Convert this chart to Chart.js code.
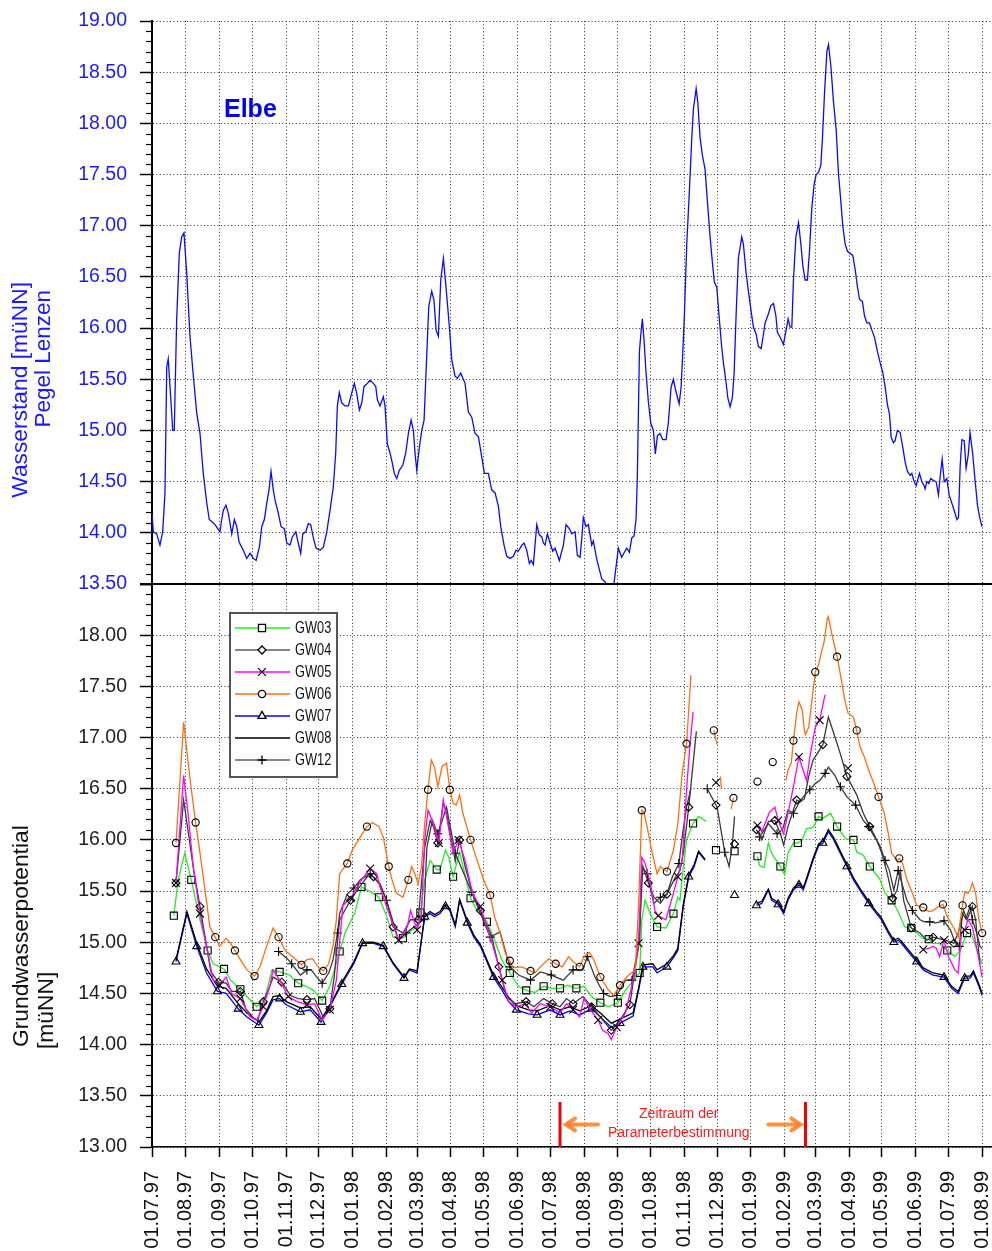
<!DOCTYPE html>
<html lang="de">
<head>
<meta charset="utf-8">
<title>Elbe / Grundwasserpotential</title>
<script src="https://cdn.jsdelivr.net/npm/chart.js@4.4.1/dist/chart.umd.min.js"></script>
<style>
html,body{margin:0;padding:0;background:#fff;}
#box{position:relative;width:992px;height:1251px;}
canvas{display:block;}
</style>
</head>
<body>
<div id="box"><canvas id="chart" width="992" height="1251"></canvas></div>
<script>
// ---------- DATA ----------
const X_TICK_LABELS = ['01.07.97','01.08.97','01.09.97','01.10.97','01.11.97','01.12.97','01.01.98','01.02.98','01.03.98','01.04.98','01.05.98','01.06.98','01.07.98','01.08.98','01.09.98','01.10.98','01.11.98','01.12.98','01.01.99','01.02.99','01.03.99','01.04.99','01.05.99','01.06.99','01.07.99','01.08.99'];
const Y_TOP_RANGE = [13.5, 19.0];
const Y_BOT_RANGE = [13.0, 18.5];
const PERIOD = ['10.07.98', '20.02.99'];

// Elbe water level [days since 01.07.97, m uNN]
const ELBE_POINTS = [[0,14.19],[1.2,14.01],[4.3,13.99],[7.3,13.88],[9.8,14.01],[11.9,14.39],[13.5,15.62],[14.9,15.70],[17.1,15.33],[19.0,15.00],[20.4,15.00],[22.6,16.08],[25.0,16.73],[27.2,16.89],[29.3,16.93],[31.8,16.54],[34.8,15.92],[37.9,15.53],[41.0,15.17],[44.0,14.97],[47.0,14.58],[50.2,14.29],[52.5,14.13],[54.7,14.11],[57.8,14.08],[60.2,14.04],[62.3,14.01],[63.9,14.13],[65.4,14.22],[67.8,14.27],[70.0,14.19],[73.1,13.99],[75.5,14.13],[77.7,14.06],[79.8,13.91],[83.7,13.83],[86.8,13.75],[89.9,13.80],[92.9,13.75],[95.4,13.73],[98.4,13.86],[100.6,14.06],[103.0,14.13],[105.2,14.29],[107.3,14.42],[109.1,14.60],[111.2,14.42],[112.8,14.32],[115.8,14.19],[118.3,14.06],[121.3,14.04],[123.5,13.90],[126.5,13.88],[128.6,13.96],[131.8,14.01],[134.1,13.90],[136.3,13.80],[138.2,13.99],[140.9,14.01],[143.3,14.09],[145.5,14.08],[147.9,13.95],[150.4,13.85],[154.0,13.83],[157.1,13.86],[160.2,14.01],[163.2,14.22],[166.2,14.45],[168.4,14.78],[169.9,15.24],[171.7,15.37],[173.9,15.27],[176.9,15.24],[180.0,15.24],[182.2,15.33],[185.5,15.46],[187.7,15.36],[190.1,15.20],[192.3,15.27],[194.4,15.43],[197.4,15.46],[199.9,15.49],[202.9,15.46],[205.1,15.43],[206.6,15.30],[209.0,15.24],[212.1,15.33],[213.6,15.24],[215.7,14.87],[218.2,14.78],[220.3,14.68],[222.1,14.58],[224.4,14.53],[226.7,14.61],[229.9,14.66],[232.6,14.78],[235.0,14.97],[237.5,15.10],[239.6,15.00],[241.1,14.78],[242.7,14.61],[245.1,14.84],[247.3,15.00],[249.4,15.10],[251.9,15.75],[253.7,16.21],[256.4,16.36],[258.5,16.27],[260.4,15.98],[262.5,15.92],[264.7,16.47],[267.1,16.68],[269.5,16.40],[272.6,16.01],[274.8,15.69],[277.8,15.53],[279.9,15.51],[283.0,15.56],[287.0,15.46],[290.0,15.18],[293.1,15.13],[296.1,14.97],[299.2,14.94],[302.3,14.74],[304.7,14.58],[308.3,14.58],[311.4,14.42],[314.5,14.39],[317.5,14.26],[319.7,14.06],[322.7,13.88],[325.2,13.77],[328.2,13.75],[331.3,13.77],[333.7,13.83],[335.8,13.82],[339.0,13.88],[341.1,13.90],[343.5,13.83],[345.9,13.70],[347.5,13.73],[349.6,13.69],[352.7,14.08],[355.1,13.98],[357.3,13.96],[358.8,13.90],[360.3,13.88],[362.4,13.99],[364.9,13.90],[367.4,13.82],[369.5,13.85],[373.4,13.73],[377.1,13.88],[379.6,14.08],[382.6,14.04],[384.8,13.99],[387.8,14.01],[389.9,13.78],[392.4,13.76],[394.0,13.95],[395.4,14.15],[397.9,14.06],[400.0,14.08],[403.1,13.88],[404.6,13.92],[407.7,13.74],[410.1,13.64],[412.3,13.55],[415.3,13.52],[418.4,13.48],[420.5,13.45],[422.9,13.46],[425.4,13.67],[427.5,13.85],[430.6,13.76],[433.0,13.81],[435.2,13.85],[437.6,13.81],[439.8,13.95],[441.9,13.97],[443.7,14.13],[444.9,14.55],[446.8,15.77],[448.1,15.94],[449.5,16.09],[451.1,15.87],[452.9,15.56],[455.0,15.28],[457.2,15.07],[459.6,15.00],[461.4,14.77],[463.3,14.95],[465.7,14.97],[468.2,14.91],[471.2,14.91],[473.3,15.07],[475.8,15.42],[477.9,15.50],[480.1,15.39],[483.2,15.26],[485.0,15.42],[486.6,15.77],[488.0,16.12],[490.2,16.82],[492.6,17.34],[494.8,17.86],[496.3,18.14],[498.8,18.34],[500.3,18.21],[502.4,17.86],[504.5,17.69],[507.0,17.55],[509.1,17.24],[511.6,16.89],[513.7,16.64],[515.5,16.45],[517.7,16.40],[519.8,16.12],[522.0,15.84],[523.8,15.66],[526.0,15.49],[527.8,15.32],[529.9,15.23],[532.0,15.32],[533.6,15.56],[535.4,16.12],[537.5,16.68],[540.6,16.89],[542.1,16.82],[544.6,16.54],[547.1,16.33],[549.8,16.12],[551.3,16.01],[553.8,15.94],[555.9,15.82],[558.4,15.80],[560.5,15.94],[562.0,16.05],[565.1,16.14],[567.3,16.22],[569.7,16.24],[571.9,16.12],[573.3,15.96],[575.8,15.91],[578.8,15.84],[581.3,15.98],[583.1,16.09],[584.9,16.01],[586.5,16.01],[588.0,16.47],[590.2,16.89],[592.6,17.03],[594.8,16.82],[596.6,16.61],[598.7,16.47],[600.8,16.47],[602.7,16.75],[604.8,17.17],[607.0,17.41],[608.8,17.50],[610.9,17.52],[613.1,17.59],[614.6,17.86],[616.4,18.28],[618.6,18.70],[620.1,18.77],[622.3,18.56],[624.7,18.21],[627.2,17.93],[629.2,17.52],[631.4,17.24],[633.3,16.99],[635.4,16.82],[637.5,16.75],[640.0,16.73],[642.4,16.71],[644.6,16.57],[646.7,16.40],[648.6,16.28],[651.2,16.26],[653.1,16.12],[655.3,16.05],[657.7,16.05],[659.9,15.98],[662.3,15.91],[665.0,15.77],[667.5,15.66],[670.0,15.56],[672.1,15.42],[674.2,15.25],[676.0,15.16],[677.6,14.93],[679.7,14.88],[681.2,14.90],[683.3,15.00],[685.8,14.98],[688.3,14.83],[690.4,14.69],[692.5,14.60],[695.0,14.56],[696.5,14.58],[698.6,14.50],[700.5,14.46],[701.7,14.51],[703.5,14.58],[705.7,14.50],[707.8,14.46],[708.7,14.43],[710.3,14.50],[712.1,14.48],[713.9,14.53],[716.3,14.51],[718.8,14.50],[720.9,14.37],[722.5,14.55],[724.3,14.72],[726.2,14.50],[728.6,14.53],[730.7,14.37],[733.2,14.29],[735.3,14.22],[737.8,14.13],[739.3,14.15],[740.8,14.65],[742.4,14.91],[744.5,14.90],[746.3,14.63],[748.2,14.76],[749.9,14.98],[752.4,14.76],[754.5,14.51],[756.7,14.27],[758.5,14.16],[760.7,14.06]];

// Groundwater wells [days since 01.07.97, m uNN]; null = no measurement
const GW03_POINTS = [[20,15.26],[24,15.61],[30,15.87],[36,15.61],[44,15.22],[51,14.92],[56,14.79],[62,14.76],[66,14.74],[72,14.63],[81,14.54],[87,14.47],[96,14.37],[104,14.47],[110,14.73],[117,14.71],[126,14.68],[134,14.60],[141,14.57],[148,14.53],[156,14.43],[163,14.57],[172,14.91],[177,15.09],[186,15.29],[192,15.54],[201,15.49],[208,15.44],[215,15.26],[221,15.05],[230,15.04],[238,15.12],[244,15.15],[246,15.29],[250,15.61],[255,15.80],[261,15.71],[264,15.71],[269,15.90],[272,15.83],[276,15.64],[282,15.88],[292,15.43],[298,15.31],[307,15.20],[314,15.02],[321,14.82],[328,14.70],[336,14.57],[343,14.53],[351,14.51],[359,14.57],[366,14.55],[374,14.55],[381,14.58],[389,14.55],[396,14.57],[403,14.47],[411,14.41],[418,14.37],[427,14.41],[434,14.53],[441,14.62],[447,14.70],[449,15.22],[452,15.41],[457,15.27],[463,15.15],[471,15.14],[478,15.28],[482,15.44],[484,15.41],[487,15.73],[490,16.00],[496,16.16],[501,16.23],[508,16.18],[512,null],[517,15.90],[525,null],[534,15.89],[545,null],[555,15.84],[557,15.75],[561,15.73],[565,15.97],[568,15.87],[576,15.74],[580,15.66],[583,15.87],[588,15.97],[592,15.97],[596,16.00],[600,16.11],[606,16.12],[611,16.23],[615,16.21],[622,16.26],[628,16.13],[636,16.01],[643,16.00],[646,15.88],[652,15.85],[658,15.74],[667,15.62],[672,15.48],[678,15.41],[682,15.34],[686,15.25],[690,15.15],[696,15.14],[701,15.09],[706,15.04],[712,15.03],[716,14.99],[722,14.99],[729,14.92],[736,14.86],[741,14.92],[747,15.09],[751,15.09],[757,14.90],[761,14.79]];
const GW04_POINTS = [[22,15.58],[29,16.39],[38,15.72],[44,15.35],[54,14.71],[61,14.61],[68,14.60],[73,14.52],[81,14.52],[86,14.35],[93,14.26],[97,14.24],[102,14.42],[108,14.57],[111,14.66],[119,14.61],[127,14.48],[134,14.45],[142,14.44],[149,14.45],[157,14.27],[163,14.35],[167,14.66],[172,15.22],[182,15.41],[188,15.51],[198,15.65],[203,15.64],[209,15.56],[215,15.41],[221,15.15],[230,15.09],[237,15.22],[244,15.22],[250,15.93],[255,16.19],[258,16.13],[262,15.97],[267,16.36],[270,16.26],[278,15.79],[282,16.00],[287,15.74],[294,15.47],[301,15.31],[311,15.07],[318,14.76],[325,14.47],[333,14.40],[343,14.42],[350,14.37],[359,14.45],[367,14.40],[374,14.37],[380,14.45],[386,14.40],[395,14.47],[403,14.37],[411,14.27],[421,14.14],[429,14.24],[438,14.39],[446,14.96],[450,15.74],[455,15.58],[460,15.44],[466,15.38],[472,15.47],[480,15.64],[484,15.70],[487,15.87],[492,16.32],[499,17.06],[508,null],[517,16.34],[525,null],[534,15.96],[545,null],[554,16.10],[559,16.00],[565,16.18],[571,16.19],[576,16.06],[579,15.95],[583,16.13],[587,16.26],[591,16.39],[594,16.37],[598,16.40],[602,16.62],[606,16.78],[615,16.93],[620,17.20],[625,17.04],[631,16.84],[637,16.62],[646,16.44],[652,16.26],[658,16.13],[663,16.03],[669,15.87],[674,15.67],[679,15.43],[683,15.51],[686,15.70],[689,15.41],[696,15.14],[704,15.09],[710,15.02],[716,15.05],[727,15.02],[735,14.99],[739,15.09],[744,15.31],[747,15.22],[752,15.35],[755,15.22],[759,14.78]];
const GW05_POINTS = [[22,15.58],[29,16.63],[33,16.26],[38,15.72],[44,15.28],[50,14.96],[56,14.63],[62,14.58],[68,14.66],[73,14.50],[81,14.45],[90,14.27],[96,14.24],[102,14.37],[108,14.57],[111,14.73],[117,14.63],[125,14.47],[133,14.42],[142,14.39],[149,14.40],[156,14.24],[163,14.34],[169,14.63],[175,15.36],[182,15.43],[192,15.61],[200,15.72],[206,15.67],[209,15.54],[215,15.35],[226,15.02],[234,15.15],[237,15.31],[243,15.12],[247,15.28],[250,16.00],[253,16.29],[258,16.16],[263,15.97],[267,16.39],[270,16.23],[276,15.87],[281,16.00],[287,15.80],[294,15.47],[301,15.35],[305,15.22],[311,15.02],[316,14.83],[321,14.63],[327,14.42],[334,14.37],[342,14.40],[348,14.31],[356,14.40],[365,14.37],[374,14.31],[380,14.40],[386,14.34],[392,14.27],[396,14.45],[402,14.34],[409,14.24],[413,14.14],[418,14.11],[421,14.05],[426,14.17],[434,14.31],[441,14.63],[446,14.99],[449,15.83],[452,15.77],[457,15.57],[461,15.31],[464,15.26],[471,15.22],[478,15.48],[482,15.64],[486,15.80],[490,16.49],[493,16.91],[496,17.25],[505,null],[517,16.56],[530,null],[555,16.14],[557,16.13],[559,16.08],[566,16.27],[571,16.32],[574,16.19],[579,16.06],[583,16.26],[588,16.52],[593,16.81],[596,16.71],[600,16.58],[603,16.81],[608,17.10],[612,17.17],[617,17.42],[628,null],[638,16.70],[660,null],[707,14.93],[712,14.94],[716,14.96],[719,14.94],[722,14.86],[726,15.02],[730,14.86],[736,14.73],[739,14.70],[742,15.09],[745,15.12],[748,15.22],[752,15.15],[754,15.05],[758,14.83],[761,14.66]];
const GW06_POINTS = [[22,15.97],[29,17.15],[35,16.58],[40,16.17],[44,15.87],[49,15.48],[53,15.15],[58,15.05],[62,14.96],[68,15.04],[72,14.99],[76,14.92],[81,14.83],[87,14.73],[94,14.67],[99,14.76],[105,14.96],[111,15.14],[116,15.05],[122,14.92],[130,14.85],[137,14.78],[142,14.83],[147,14.84],[153,14.75],[157,14.72],[162,14.79],[166,14.97],[169,15.22],[172,15.67],[179,15.77],[184,15.91],[191,16.03],[197,16.13],[202,16.17],[208,16.13],[212,16.03],[217,15.74],[220,15.61],[224,15.48],[230,15.44],[235,15.61],[238,15.74],[241,15.67],[244,15.57],[247,15.74],[250,16.16],[253,16.49],[256,16.78],[259,16.71],[262,16.52],[266,16.72],[270,16.75],[273,16.49],[276,16.36],[279,16.34],[282,16.44],[285,16.26],[292,16.00],[298,15.80],[304,15.61],[310,15.46],[314,15.25],[319,15.09],[324,14.89],[328,14.82],[331,14.75],[339,14.76],[347,14.72],[351,14.70],[356,14.76],[364,14.84],[370,14.79],[376,14.76],[382,14.86],[386,14.81],[392,14.76],[396,14.86],[401,14.90],[405,14.83],[411,14.66],[418,14.54],[423,14.48],[429,14.58],[436,14.67],[443,14.73],[446,15.35],[449,16.29],[451,16.27],[454,16.12],[458,15.90],[463,15.67],[466,15.74],[472,15.69],[478,15.90],[482,16.16],[486,16.65],[490,16.94],[493,17.43],[494,17.61],[505,null],[515,17.07],[518,16.93],[519,null],[521,16.62],[522,16.50],[527,null],[531,16.30],[533,16.41],[544,null],[555,16.57],[562,null],[569,16.76],[575,null],[581,16.58],[583,16.68],[586,16.75],[588,16.97],[591,17.24],[593,17.35],[596,17.27],[598,17.07],[599,17.03],[602,17.10],[605,17.37],[608,17.64],[611,17.71],[614,17.85],[616,17.93],[619,18.16],[620,18.18],[623,18.02],[628,17.79],[632,17.56],[635,17.37],[638,17.24],[643,17.20],[646,17.07],[649,16.91],[653,16.81],[657,16.68],[661,16.57],[666,16.42],[671,16.27],[675,16.06],[678,15.87],[683,15.80],[685,15.82],[688,15.77],[692,15.61],[697,15.48],[701,15.36],[707,15.34],[712,15.30],[716,15.31],[721,15.35],[725,15.37],[729,15.25],[735,15.14],[739,15.05],[741,15.22],[743,15.36],[745,15.49],[748,15.48],[750,15.51],[752,15.58],[755,15.48],[758,15.22],[761,15.09]];
const GW07_POINTS = [[22,14.81],[32,15.28],[41,14.96],[50,14.70],[60,14.52],[68,14.50],[79,14.35],[87,14.27],[98,14.19],[105,14.31],[111,14.44],[117,14.45],[123,14.39],[136,14.32],[145,14.34],[155,14.22],[163,14.37],[174,14.59],[185,14.79],[193,14.99],[203,14.99],[212,14.96],[221,14.79],[231,14.65],[236,14.73],[243,14.70],[247,15.02],[250,15.25],[255,15.28],[259,15.25],[264,15.28],[269,15.35],[273,15.31],[278,15.15],[282,15.41],[289,15.19],[295,15.05],[301,14.96],[307,14.81],[313,14.66],[321,14.53],[327,14.42],[334,14.34],[345,14.30],[353,14.29],[365,14.34],[374,14.29],[383,14.33],[392,14.29],[403,14.35],[411,14.27],[421,14.17],[429,14.21],[441,14.28],[446,14.53],[450,14.76],[459,14.76],[463,14.70],[472,14.76],[478,14.85],[482,14.92],[487,15.35],[492,15.64],[497,15.74],[501,15.88],[507,15.80],[520,null],[534,15.46],[545,null],[554,15.36],[559,15.38],[565,15.51],[568,15.41],[574,15.37],[579,15.28],[583,15.41],[588,15.51],[593,15.56],[597,15.51],[602,15.67],[606,15.80],[611,15.94],[615,15.97],[620,16.08],[625,16.00],[630,15.89],[637,15.74],[643,15.61],[650,15.49],[657,15.38],[664,15.28],[668,15.23],[675,15.09],[680,15.00],[684,15.02],[687,14.99],[693,14.91],[701,14.81],[707,14.73],[716,14.68],[726,14.66],[733,14.55],[739,14.50],[745,14.65],[750,14.65],[753,14.70],[758,14.57],[761,14.48]];
const GW08_POINTS = [[22,14.83],[32,15.30],[41,14.99],[50,14.74],[60,14.57],[68,14.55],[79,14.40],[87,14.31],[98,14.22],[105,14.33],[111,14.47],[117,14.48],[123,14.42],[136,14.36],[145,14.37],[155,14.25],[163,14.38],[174,14.61],[185,14.81],[193,15.00],[203,15.00],[212,14.97],[221,14.80],[231,14.66],[236,14.74],[243,14.72],[247,15.03],[250,15.26],[255,15.30],[259,15.27],[264,15.30],[269,15.37],[273,15.33],[278,15.17],[282,15.42],[289,15.21],[295,15.07],[301,14.98],[307,14.83],[313,14.68],[321,14.56],[327,14.46],[334,14.38],[345,14.34],[353,14.33],[365,14.38],[374,14.34],[383,14.37],[392,14.33],[403,14.38],[411,14.31],[421,14.21],[429,14.25],[441,14.31],[446,14.55],[450,14.78],[459,14.79],[463,14.73],[472,14.79],[478,14.87],[482,14.94],[487,15.37],[492,15.66],[497,15.76],[501,15.89],[507,15.81],[530,null],[554,15.38],[559,15.40],[565,15.52],[568,15.43],[574,15.39],[579,15.30],[583,15.43],[588,15.53],[593,15.58],[597,15.53],[602,15.69],[606,15.82],[611,15.96],[615,15.99],[620,16.10],[625,16.02],[630,15.91],[637,15.76],[643,15.63],[650,15.51],[657,15.40],[664,15.30],[668,15.25],[675,15.11],[680,15.02],[684,15.04],[687,15.01],[693,14.93],[701,14.83],[707,14.75],[716,14.70],[726,14.68],[733,14.57],[739,14.52],[745,14.67],[750,14.67],[753,14.72],[758,14.59],[761,14.50]];
const GW12_POINTS = [[116,14.91],[124,14.84],[128,14.79],[136,14.68],[142,14.73],[146,14.73],[151,14.66],[156,14.60],[162,14.70],[166,14.83],[170,15.09],[172,15.28],[179,15.47],[185,15.53],[191,15.61],[200,15.67],[209,15.57],[215,15.41],[226,15.02],[233,15.09],[240,15.15],[249,15.22],[252,15.93],[257,16.19],[262,16.06],[270,16.32],[278,15.87],[293,15.49],[310,15.05],[319,15.10],[328,14.76],[336,14.68],[347,14.63],[356,14.71],[366,14.68],[377,14.63],[386,14.73],[395,14.73],[399,14.86],[406,14.66],[414,14.50],[420,14.47],[426,14.48],[434,14.63],[440,14.63],[447,15.02],[449,15.74],[454,15.67],[460,15.38],[466,15.44],[472,15.47],[477,15.64],[483,15.77],[486,16.03],[490,16.32],[494,16.50],[500,null],[509,16.50],[518,16.32],[525,15.88],[529,15.74],[532,15.96],[534,16.23],[545,null],[557,16.03],[565,16.16],[573,16.06],[578,16.10],[583,16.29],[588,16.26],[593,16.36],[597,16.42],[603,16.49],[608,16.55],[612,16.58],[617,16.65],[620,16.71],[626,16.63],[631,16.52],[637,16.42],[645,16.34],[652,16.19],[657,16.13],[661,16.05],[667,15.95],[672,15.80],[676,15.70],[680,15.51],[684,15.70],[687,15.59],[692,15.41],[697,15.31],[704,15.22],[708,15.20],[713,15.20],[718,15.19],[723,15.20],[726,15.21],[732,15.12],[736,15.00],[740,14.96],[743,15.28],[746,15.23],[750,15.35],[752,15.22],[756,15.09],[759,14.96],[761,14.94]];

// ---------- HELPERS / STYLE ----------
const FONT = '"Liberation Sans", Arial, Helvetica, sans-serif';
const DAY0 = Date.UTC(1997, 6, 1);
function dayOf(s) {
  const p = s.split('.').map(Number);
  const y = p[2] < 50 ? 2000 + p[2] : 1900 + p[2];
  return Math.round((Date.UTC(y, p[1] - 1, p[0]) - DAY0) / 86400000);
}
const MONTH_DAYS = X_TICK_LABELS.map(dayOf);

const SERIES = [
  {label:'GW03', pts:GW03_POINTS, color:'#22ee22', style:'rect', r:5, every:15, order:6},
  {label:'GW04', pts:GW04_POINTS, color:'#3a3a3a', legendColor:'#5c5c5c', style:'rectRot', r:4, every:17, order:3},
  {label:'GW05', pts:GW05_POINTS, color:'#ff00ff', style:'crossRot', r:5.5, every:17, order:2},
  {label:'GW06', pts:GW06_POINTS, color:'#ff6d10', style:'circle', r:3.6, every:18, order:1},
  {label:'GW07', pts:GW07_POINTS, color:'#0000ff', style:'triangle', r:4.6, every:19, order:7},
  {label:'GW08', pts:GW08_POINTS, color:'#000000', style:false, r:0, every:0, order:5},
  {label:'GW12', pts:GW12_POINTS, color:'#3a3a3a', legendColor:'#5c5c5c', style:'cross', r:4.5, every:12, order:4}
];

function markerRadii(pts, every, r) {
  const out = [];
  let next = -Infinity;
  for (let i = 0; i < pts.length; i++) {
    const v = pts[i][1];
    if (v === null || !r) { out.push(0); continue; }
    const prevNull = i === 0 || pts[i - 1][1] === null;
    const nextNull = i === pts.length - 1 || pts[i + 1][1] === null;
    if ((prevNull && nextNull) || pts[i][0] >= next) { out.push(r); next = pts[i][0] + every; }
    else out.push(0);
  }
  return out;
}

const datasets = [{
  label: 'Elbe', yAxisID: 'yTop', xAxisID: 'x',
  data: ELBE_POINTS.map(p => ({x: p[0], y: p[1]})),
  borderColor: '#0a0aff', borderWidth: 1.3, pointRadius: 0, tension: 0, spanGaps: false, order: 0
}];
SERIES.forEach(s => {
  datasets.push({
    label: s.label, yAxisID: 'yBot', xAxisID: 'x',
    data: s.pts.map(p => ({x: p[0], y: p[1]})),
    borderColor: s.color, borderWidth: 1.3, tension: 0, spanGaps: false, order: s.order,
    pointRadius: markerRadii(s.pts, s.every, s.r), pointHoverRadius: 0,
    pointStyle: s.style || 'circle', pointBorderColor: '#000', pointBackgroundColor: 'rgba(0,0,0,0)',
    pointBorderWidth: 1.1
  });
});

function vtext(ctx, text, x, y, align, font, color) {
  ctx.save();
  ctx.translate(x, y);
  ctx.rotate(-Math.PI / 2);
  ctx.font = font; ctx.fillStyle = color; ctx.textAlign = align; ctx.textBaseline = 'middle';
  ctx.fillText(text, 0, 0);
  ctx.restore();
}

const deco = {
  id: 'deco',
  afterDraw(chart) {
    const ctx = chart.ctx, ca = chart.chartArea;
    const {x, yTop, yBot} = chart.scales;
    ctx.save();
    // minor ticks
    ctx.strokeStyle = '#000'; ctx.lineWidth = 1.2;
    [yTop, yBot].forEach(s => {
      for (let k = Math.round(s.min * 10); k <= Math.round(s.max * 10); k++) {
        if (k % 5 === 0) continue;
        const py = Math.round(s.getPixelForValue(k / 10)) + 0.5;
        ctx.beginPath(); ctx.moveTo(ca.left - 6, py); ctx.lineTo(ca.left, py); ctx.stroke();
      }
    });
    // separator between the two panels
    const ys = yTop.getPixelForValue(Y_TOP_RANGE[0]);
    ctx.lineWidth = 2.2; ctx.strokeStyle = '#000';
    ctx.beginPath(); ctx.moveTo(ca.left - 12, ys); ctx.lineTo(ca.right, ys); ctx.stroke();

    // Elbe label
    ctx.font = 'bold 25px ' + FONT; ctx.fillStyle = '#0000ee';
    ctx.textAlign = 'left'; ctx.textBaseline = 'middle';
    ctx.fillText('Elbe', x.getPixelForValue(66), yTop.getPixelForValue(18.13));

    // axis titles
    vtext(ctx, 'Wasserstand [müNN]', 21, 282, 'right', '22.8px ' + FONT, '#1a1aff');
    vtext(ctx, 'Pegel Lenzen', 44, 290, 'right', '22.5px ' + FONT, '#1a1aff');
    vtext(ctx, 'Grundwasserpotential', 22, 1047, 'left', '22.8px ' + FONT, '#111');
    vtext(ctx, '[müNN]', 47, 1049, 'left', '22.8px ' + FONT, '#111');

    // period annotation
    const xa = x.getPixelForValue(dayOf(PERIOD[0]));
    const xb = x.getPixelForValue(dayOf(PERIOD[1]));
    const yb0 = yBot.getPixelForValue(Y_BOT_RANGE[0]);
    const yb1 = yBot.getPixelForValue(13.44);
    ctx.strokeStyle = '#ee0000'; ctx.lineWidth = 3;
    [xa, xb].forEach(px => { ctx.beginPath(); ctx.moveTo(px, yb0); ctx.lineTo(px, yb1); ctx.stroke(); });
    const ya = yBot.getPixelForValue(13.22);
    ctx.strokeStyle = 'rgba(255,125,30,0.85)'; ctx.lineWidth = 4; ctx.lineCap = 'round';
    ctx.beginPath(); ctx.moveTo(xa + 38, ya); ctx.lineTo(xa + 8, ya); ctx.stroke();
    ctx.beginPath(); ctx.moveTo(xa + 15, ya - 6); ctx.lineTo(xa + 6, ya); ctx.lineTo(xa + 15, ya + 6); ctx.stroke();
    ctx.beginPath(); ctx.moveTo(xb - 37, ya); ctx.lineTo(xb - 7, ya); ctx.stroke();
    ctx.beginPath(); ctx.moveTo(xb - 14, ya - 6); ctx.lineTo(xb - 5, ya); ctx.lineTo(xb - 14, ya + 6); ctx.stroke();
    ctx.fillStyle = '#ff1a1a'; ctx.font = '14px ' + FONT; ctx.textAlign = 'center'; ctx.textBaseline = 'middle';
    const xm = (xa + xb) / 2 - 4;
    ctx.fillText('Zeitraum der', xm, yb0 - 33);
    ctx.fillText('Parameterbestimmung', xm, yb0 - 14);

    // legend
    const lx = ca.left + 78, ly = yBot.top + 29, lw = 107, lh = 164;
    ctx.fillStyle = '#fff'; ctx.fillRect(lx, ly, lw, lh);
    ctx.lineWidth = 2; ctx.strokeStyle = '#555'; ctx.lineCap = 'butt';
    ctx.strokeRect(lx, ly, lw, lh);
    SERIES.forEach((s, i) => {
      const cy = ly + 15 + 22 * i;
      ctx.strokeStyle = s.legendColor || s.color; ctx.lineWidth = 1.6;
      ctx.beginPath(); ctx.moveTo(lx + 5, cy); ctx.lineTo(lx + 60, cy); ctx.stroke();
      if (s.style) {
        ctx.strokeStyle = '#000'; ctx.fillStyle = '#fff'; ctx.lineWidth = 1.3;
        Chart.helpers.drawPoint(ctx, {pointStyle: s.style, radius: s.r, borderWidth: 1.3, rotation: 0}, lx + 32, cy);
      }
      ctx.save();
      ctx.translate(lx + 65, cy + 1);
      ctx.scale(0.8, 1);
      ctx.fillStyle = '#111'; ctx.font = '16px ' + FONT; ctx.textAlign = 'left'; ctx.textBaseline = 'middle';
      ctx.fillText(s.label, 0, 0);
      ctx.restore();
    });
    ctx.restore();
  }
};

const gridCommon = {color: '#333', lineWidth: 1, tickColor: '#000', tickWidth: 1.5};
function noPad(s) { s.paddingLeft = 0; s.paddingRight = 0; s.paddingTop = 0; s.paddingBottom = 0; }

new Chart(document.getElementById('chart'), {
  type: 'line',
  data: {datasets},
  options: {
    responsive: false, animation: false, devicePixelRatio: 1, events: [],
    layout: {autoPadding: false, padding: {top: 21, right: 0, bottom: 0, left: 0}},
    plugins: {legend: {display: false}, tooltip: {enabled: false}},
    scales: {
      x: {
        type: 'linear', position: 'bottom', min: 0, max: 770,
        afterBuildTicks: s => { s.ticks = MONTH_DAYS.map(v => ({value: v})); },
        afterFit: s => { s.height = 104; noPad(s); },
        ticks: {autoSkip: false, maxRotation: 90, minRotation: 90, padding: 14, color: '#111',
                font: {family: FONT, size: 20}, callback: (v, i) => X_TICK_LABELS[i]},
        grid: Object.assign({}, gridCommon, {tickLength: 10}),
        border: {display: true, color: '#000', width: 1.5, dash: [1, 2.4]}
      },
      yTop: {
        type: 'linear', position: 'left', stack: 'panels', stackWeight: 1, weight: 1,
        min: Y_TOP_RANGE[0], max: Y_TOP_RANGE[1],
        afterFit: s => { s.width = 152; noPad(s); },
        ticks: {stepSize: 0.5, color: '#1a1aff', padding: 13, font: {family: FONT, size: 19.5},
                callback: v => v.toFixed(2)},
        grid: Object.assign({}, gridCommon, {tickLength: 12}),
        border: {display: true, color: '#000', width: 2, dash: [1, 2.4]}
      },
      yBot: {
        type: 'linear', position: 'left', stack: 'panels', stackWeight: 1, weight: 0,
        min: Y_BOT_RANGE[0], max: Y_BOT_RANGE[1],
        afterFit: s => { s.width = 152; noPad(s); },
        ticks: {stepSize: 0.5, color: '#222', padding: 13, font: {family: FONT, size: 19.5},
                callback: v => (v > 18.4 ? '' : v.toFixed(2))},
        grid: Object.assign({}, gridCommon, {tickLength: 12}),
        border: {display: true, color: '#000', width: 2, dash: [1, 2.4]}
      }
    }
  },
  plugins: [deco]
});
</script>
</body>
</html>
